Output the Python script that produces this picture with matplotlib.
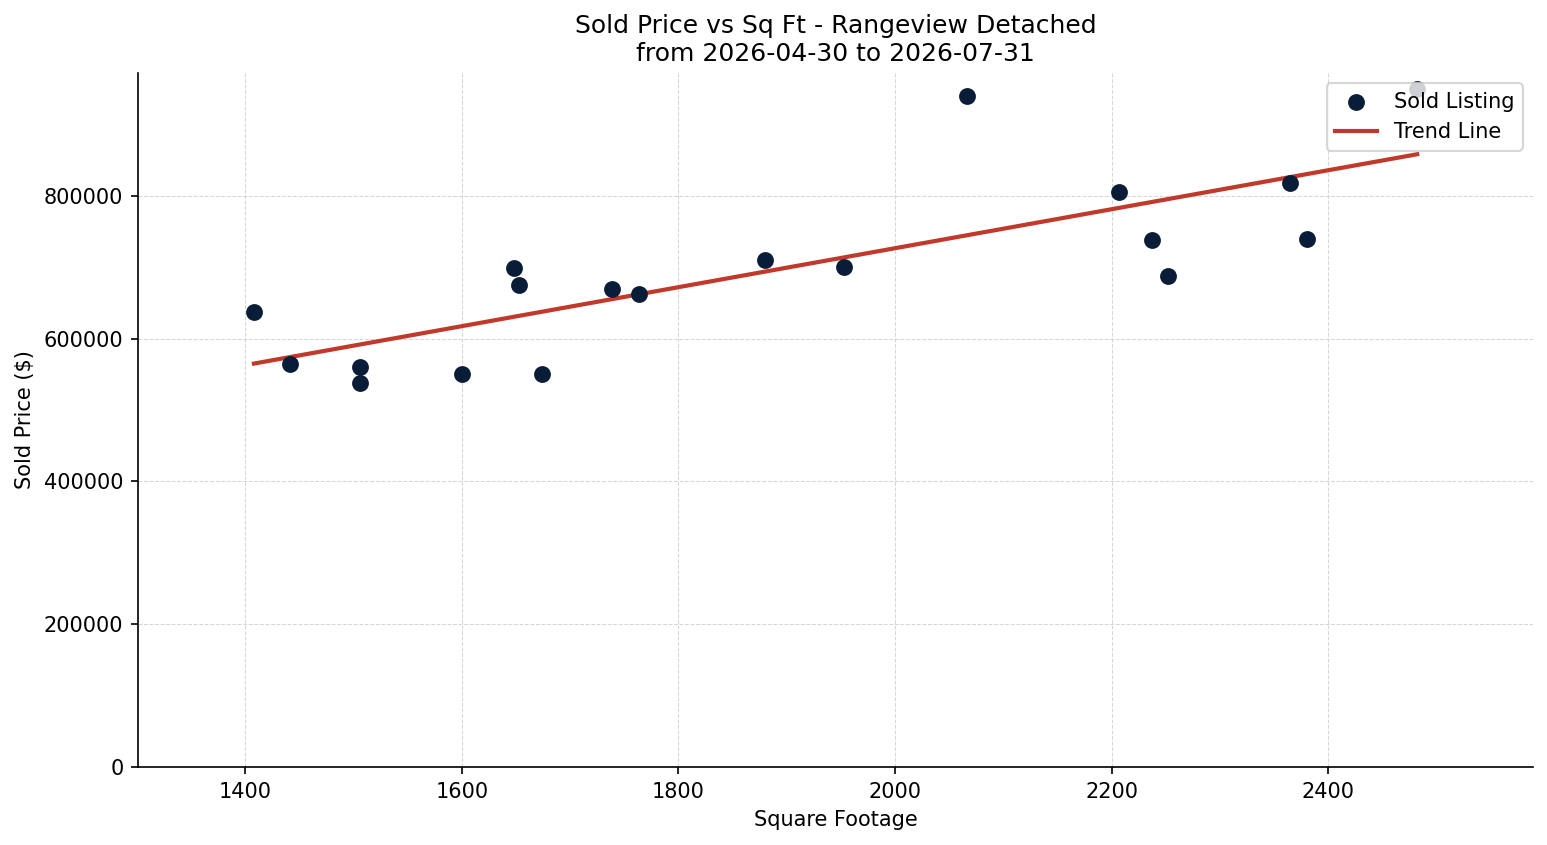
import numpy as np
import matplotlib
matplotlib.use("Agg")
import matplotlib.pyplot as plt

# sold listings
sqft = [1408, 1441, 1506, 1506, 1600, 1648, 1653, 1674, 1739, 1764,
        1880, 1953, 2066, 2207, 2237, 2252, 2365, 2380, 2482]
price = [637000, 565000, 560000, 538000, 550000, 699000, 675000, 550000, 670000, 663000,
         710000, 700000, 940000, 805000, 738000, 688000, 818000, 740000, 949000]

x = np.array(sqft, dtype=float)
y = np.array(price, dtype=float)
slope, intercept = np.polyfit(x, y, 1)
xs = np.array([x.min(), x.max()])

fig, ax = plt.subplots(figsize=(1547 / 150, 845 / 150), dpi=150)
fig.subplots_adjust(left=0.0892, right=0.991, top=0.9136, bottom=0.0923)

ax.scatter(x, y, s=50, color="#0a1d38", label="Sold Listing", zorder=3)
ax.plot(xs, slope * xs + intercept, color="#c0392b", linewidth=2, label="Trend Line", zorder=2)

ax.set_title("Sold Price vs Sq Ft - Rangeview Detached\nfrom 2026-04-30 to 2026-07-31", fontsize=12)
ax.set_xlabel("Square Footage")
ax.set_ylabel("Sold Price ($)")
ax.set_xlim(1301, 2589)
ax.set_ylim(0, 972000)
ax.ticklabel_format(axis="y", style="plain", useOffset=False)
ax.grid(True, linestyle="--", linewidth=0.5, color="#cccccc", alpha=0.8)
ax.spines["top"].set_visible(False)
ax.spines["right"].set_visible(False)
ax.legend(loc="upper right")

fig.savefig("out.png", dpi=150)
